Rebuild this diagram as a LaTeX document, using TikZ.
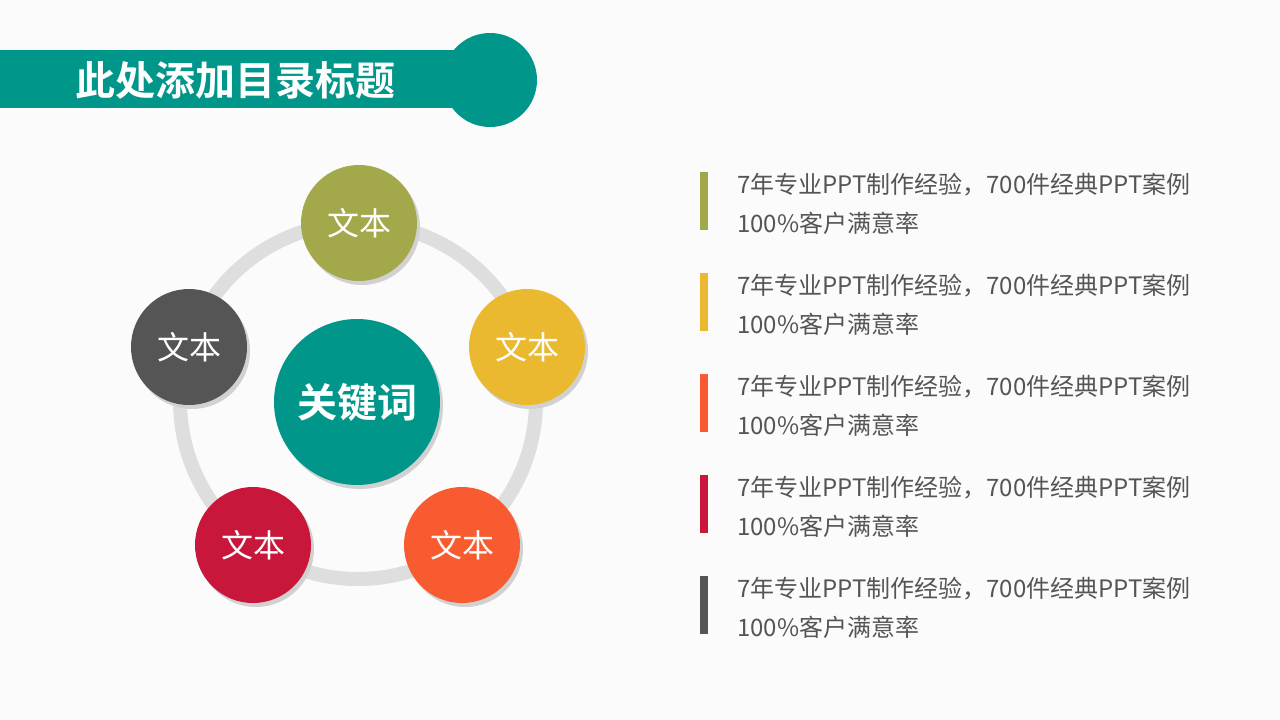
\documentclass[tikz,border=0pt]{standalone}
\usepackage{fontspec}
\setmainfont{Noto Sans CJK SC}
\newfontfamily\cjkb{Noto Sans CJK SC Bold}
\definecolor{teal1}{HTML}{00968A}
\definecolor{olive1}{HTML}{A3A84A}
\definecolor{yel1}{HTML}{EBB92F}
\definecolor{ora1}{HTML}{F95B30}
\definecolor{red1}{HTML}{C8173A}
\definecolor{gray1}{HTML}{555555}
\definecolor{txt}{HTML}{555555}
\tikzset{
  dot/.style={circle,minimum size=116pt,inner sep=0pt,text=white,font=\fontsize{32pt}{36pt}\selectfont},
  shad/.style={circle,minimum size=116pt,inner sep=0pt,fill=black!18},
  bar/.style={minimum width=8pt,minimum height=58pt,inner sep=0pt,anchor=north west},
  item/.style={anchor=north west,align=left,text=txt,font=\fontsize{24pt}{39pt}\selectfont,inner sep=0pt}
}
\begin{document}
\begin{tikzpicture}[x=1pt,y=-1pt]
\fill[white!98.5!black] (0,0) rectangle (1280,720);
\useasboundingbox (0,0) rectangle (1280,720);
\fill[teal1] (0,50) rectangle (490,108);
\fill[teal1] (490,80) circle (47);
\node[text=white,font=\cjkb\fontsize{40pt}{44pt}\selectfont,anchor=west] (title) at (72,80) {此处添加目录标题};
\draw[line width=14pt,black!13] (358,401) circle (178);
\foreach \n/\x/\y/\c in {a/359/223/olive1,b/527/347/yel1,c/462/545/ora1,d/253/545/red1,e/189/347/gray1}{
  \node[shad] at (\x+3,\y+4) {};
  \node[dot,fill=\c] (\n) at (\x,\y) {文本};
}
\node[circle,minimum size=166pt,fill=black!18] at (360,406) {};
\node[circle,minimum size=166pt,inner sep=0pt,fill=teal1,text=white,font=\cjkb\fontsize{40pt}{44pt}\selectfont] (k) at (357,402) {关键词};
\foreach \i/\c in {0/olive1,1/yel1,2/ora1,3/red1,4/gray1}{
  \node[bar,fill=\c] (b\i) at (700,172+101*\i) {};
  \node[item] (t\i) at (737,173+101*\i) {7年专业PPT制作经验，700件经典PPT案例\\100\%客户满意率};
}
\end{tikzpicture}
\end{document}
